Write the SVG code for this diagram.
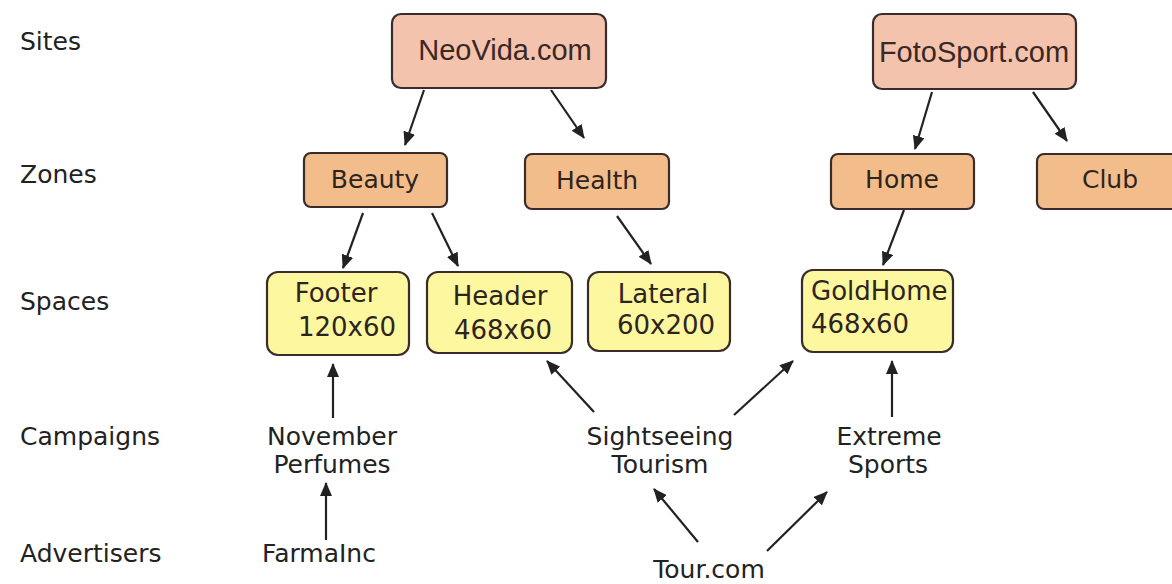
<svg xmlns="http://www.w3.org/2000/svg" width="1172" height="584" viewBox="0 0 1172 584">
<style>
.lbl{font-family:"DejaVu Sans",sans-serif;font-size:25px;fill:#222;}
.site rect{fill:#f4c3ae;stroke:#3a2c2a;stroke-width:2.2;}
.zone rect{fill:#f3bd8b;stroke:#3a2c2a;stroke-width:2.2;}
.space rect{fill:#fdf79f;stroke:#3a2c2a;stroke-width:2.2;}
.site text{font-family:"Liberation Sans",sans-serif;font-size:29px;fill:#3a2824;text-anchor:middle;}
.zone text,.space text{font-family:"DejaVu Sans",sans-serif;font-size:25px;fill:#2e241e;text-anchor:middle;}
.space text{font-size:26px;}
.node text.c{font-family:"DejaVu Sans",sans-serif;font-size:25px;fill:#222;text-anchor:middle;}
.conn line{stroke:#222;stroke-width:2.2;marker-end:url(#ah);}
</style>
<defs>
<marker id="ah" markerUnits="userSpaceOnUse" markerWidth="14" markerHeight="12" refX="13" refY="6" orient="auto">
<path d="M0,0 L14,6 L0,12 Z" fill="#222"/>
</marker>
</defs>
<rect width="1172" height="584" fill="#fff"/>
<g id="row-labels">
<text class="lbl" x="20" y="50">Sites</text>
<text class="lbl" x="20" y="183">Zones</text>
<text class="lbl" x="20" y="310">Spaces</text>
<text class="lbl" x="20" y="445">Campaigns</text>
<text class="lbl" x="20" y="562">Advertisers</text>
</g>
<g id="neovida" class="site"><rect x="392" y="14" width="214" height="74" rx="9"/><text x="505" y="60">NeoVida.com</text></g>
<g id="fotosport" class="site"><rect x="873" y="14" width="203" height="75" rx="9"/><text x="974" y="62">FotoSport.com</text></g>
<g id="beauty" class="zone"><rect x="304" y="153" width="143" height="54" rx="7"/><text x="375" y="188">Beauty</text></g>
<g id="health" class="zone"><rect x="525" y="154" width="144" height="55" rx="7"/><text x="597" y="189">Health</text></g>
<g id="home" class="zone"><rect x="831" y="154" width="143" height="55" rx="7"/><text x="902" y="188">Home</text></g>
<g id="club" class="zone"><rect x="1037" y="154" width="145" height="55" rx="7"/><text x="1110" y="188">Club</text></g>
<g id="footer" class="space"><rect x="267" y="272" width="142" height="83" rx="11"/><text x="336" y="302">Footer</text><text x="347" y="336">120x60</text></g>
<g id="header" class="space"><rect x="427" y="272" width="145" height="81" rx="11"/><text x="500" y="305">Header</text><text x="503" y="339">468x60</text></g>
<g id="lateral" class="space"><rect x="588" y="272" width="142" height="79" rx="11"/><text x="663" y="303">Lateral</text><text x="666" y="334">60x200</text></g>
<g id="goldhome" class="space"><rect x="802" y="270" width="151" height="82" rx="11"/><text x="811" y="300" style="text-anchor:start">GoldHome</text><text x="811" y="333" style="text-anchor:start">468x60</text></g>
<g id="november" class="node"><text class="c" x="332" y="445">November</text><text class="c" x="332" y="473">Perfumes</text></g>
<g id="sightseeing" class="node"><text class="c" x="660" y="445">Sightseeing</text><text class="c" x="660" y="473">Tourism</text></g>
<g id="extreme" class="node"><text class="c" x="889" y="445">Extreme</text><text class="c" x="888" y="473">Sports</text></g>
<g id="farmainc" class="node"><text class="c" x="319" y="562">FarmaInc</text></g>
<g id="tourcom" class="node"><text class="c" x="709" y="578">Tour.com</text></g>
<g id="connectors" class="conn">
<line x1="424" y1="90" x2="405" y2="145"/>
<line x1="551" y1="90" x2="584" y2="138"/>
<line x1="932" y1="92" x2="915" y2="149"/>
<line x1="1033" y1="92" x2="1067" y2="141"/>
<line x1="363" y1="213" x2="343" y2="268"/>
<line x1="432" y1="213" x2="458" y2="266"/>
<line x1="617" y1="216" x2="651" y2="264"/>
<line x1="904" y1="210" x2="883" y2="265"/>
<line x1="333" y1="418" x2="333" y2="364"/>
<line x1="326" y1="540" x2="326" y2="483"/>
<line x1="594" y1="412" x2="547" y2="361"/>
<line x1="734" y1="415" x2="793" y2="361"/>
<line x1="892" y1="417" x2="892" y2="361"/>
<line x1="698" y1="542" x2="654" y2="489"/>
<line x1="767" y1="551" x2="827" y2="492"/>
</g>
</svg>
